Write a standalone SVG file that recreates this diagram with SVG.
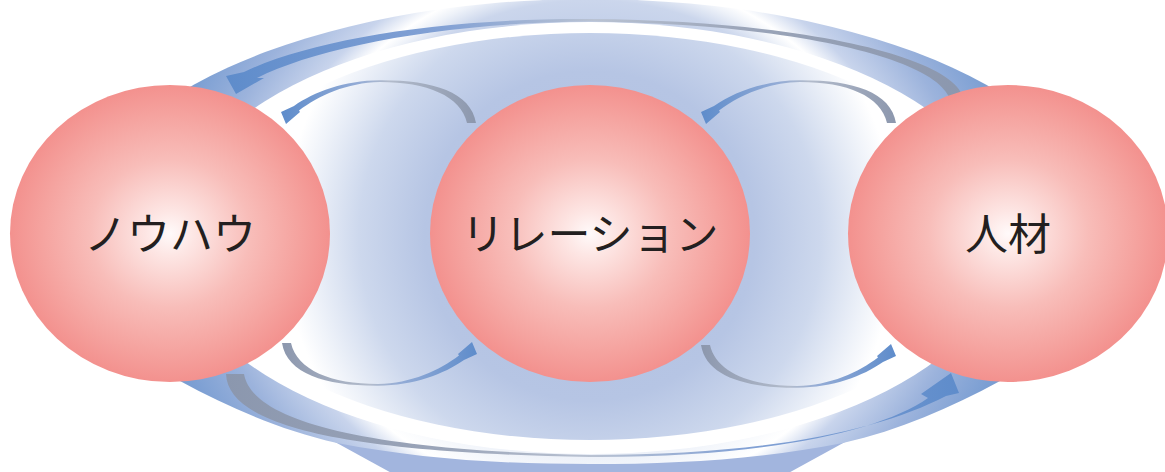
<svg xmlns="http://www.w3.org/2000/svg" xmlns:xlink="http://www.w3.org/1999/xlink" width="1165" height="472" viewBox="0 0 1165 472">
<style>
.lbl{font-family:"Noto Sans CJK JP","Noto Sans",sans-serif;font-size:43px;fill:#231f20;text-anchor:middle}
.node{fill:url(#pink)}
</style>
<defs>
<radialGradient id="pink" cx="0.5" cy="0.5" r="0.5">
<stop offset="0" stop-color="#fffafa"/>
<stop offset="0.15" stop-color="#fde6e4"/>
<stop offset="0.5" stop-color="#f8bdb9"/>
<stop offset="0.8" stop-color="#f5a39f"/>
<stop offset="1" stop-color="#f3918e"/>
</radialGradient>
<radialGradient id="bandTop" gradientUnits="userSpaceOnUse" cx="590" cy="300" r="500">
<stop offset="0.5" stop-color="#bccae7"/>
<stop offset="0.6" stop-color="#cbd6ec"/>
<stop offset="0.635" stop-color="#eef2f9"/>
<stop offset="0.655" stop-color="#ffffff"/>
<stop offset="0.7" stop-color="#c8d4ec"/>
<stop offset="0.8" stop-color="#9cb3dc"/>
<stop offset="0.9" stop-color="#7c9fd3"/>
<stop offset="1" stop-color="#6e95d0"/>
</radialGradient>
<radialGradient id="bandBot" gradientUnits="userSpaceOnUse" cx="590" cy="170" r="500">
<stop offset="0.5" stop-color="#dce3f2"/>
<stop offset="0.6" stop-color="#f3f6fb"/>
<stop offset="0.655" stop-color="#ffffff"/>
<stop offset="0.7" stop-color="#c8d4ec"/>
<stop offset="0.8" stop-color="#9cb3dc"/>
<stop offset="0.9" stop-color="#7c9fd3"/>
<stop offset="1" stop-color="#6e95d0"/>
</radialGradient>
<radialGradient id="inner" gradientUnits="userSpaceOnUse" cx="590" cy="236" r="330">
<stop offset="0" stop-color="#aebfe0"/>
<stop offset="0.5" stop-color="#b6c5e4"/>
<stop offset="0.7" stop-color="#cdd8ed"/>
<stop offset="0.85" stop-color="#eef2f9"/>
<stop offset="0.93" stop-color="#ffffff"/>
</radialGradient>
<linearGradient id="bigTop" gradientUnits="userSpaceOnUse" x1="226" y1="0" x2="963" y2="0">
<stop offset="0" stop-color="#5e8ccb"/>
<stop offset="0.3" stop-color="#84a2d5"/>
<stop offset="0.5" stop-color="#b9c2d2"/>
<stop offset="0.7" stop-color="#9ba5b9"/>
<stop offset="1" stop-color="#8b97ae"/>
</linearGradient>
<linearGradient id="bigBot" gradientUnits="userSpaceOnUse" x1="226" y1="0" x2="960" y2="0">
<stop offset="0" stop-color="#8b97ae"/>
<stop offset="0.3" stop-color="#9ba5b9"/>
<stop offset="0.5" stop-color="#b9c2d2"/>
<stop offset="0.7" stop-color="#84a2d5"/>
<stop offset="1" stop-color="#5e8ccb"/>
</linearGradient>
<linearGradient id="small" x1="0" y1="0" x2="1" y2="0">
<stop offset="0" stop-color="#5e8ccb"/>
<stop offset="0.4" stop-color="#94acd6"/>
<stop offset="0.55" stop-color="#b3bccc"/>
<stop offset="1" stop-color="#8c97ad"/>
</linearGradient>
<path id="smallArrow" fill="url(#small)" d="M 476,123 C 471,92 432,80 380,80.3 C 344,80.6 314,92 294,106 L 281,112 L 286,124 L 300,112 L 299,110.5 C 318,96 347,82.5 380,82 C 427,82 461,96 467,123 Z"/>
</defs>

<g id="background">
<polygon points="304,425 397,476 783,476 876,425" fill="#a2b5de"/>
<path d="M 78,233 A 512 234 0 0 1 1102,233 Z" fill="url(#bandTop)"/>
<path d="M 1102,233 C 1098,300 1060,350 1000,381 C 950,408 900,430 843,443 C 760,459 680,464 590,464 C 500,464 420,459 337,443 C 280,430 230,408 180,381 C 120,350 82,300 78,233 Z" fill="url(#bandBot)"/>
<ellipse cx="590" cy="238" rx="420" ry="216" fill="#ffffff"/>
<ellipse cx="590" cy="236.5" rx="400" ry="203.5" fill="url(#inner)"/>
</g>

<g id="connectors">
<path id="arrow-top" fill="url(#bigTop)" d="M 963,97 C 952,58 810,21 590,19 C 440,18 310,40 244,72 L 226,76 L 236,94 L 264,78 L 257,78 C 318,47 445,22.5 590,21.5 C 795,24 932,58 949,97 Z"/>
<path id="arrow-bottom" fill="url(#bigBot)" d="M 226,374 C 228,425 340,453 590,457 C 760,458 880,432 928,398 L 921,394 L 951,373 L 959,393 L 946,396 C 880,430 770,455 590,455 C 360,450 252,420 244,374 Z"/>
<use id="arrow-tl" xlink:href="#smallArrow"/>
<use id="arrow-tr" xlink:href="#smallArrow" transform="translate(420,0)"/>
<use id="arrow-bl" xlink:href="#smallArrow" transform="rotate(180 379 233)"/>
<use id="arrow-br" xlink:href="#smallArrow" transform="translate(419,2) rotate(180 379 233)"/>
</g>

<g id="node-knowhow">
<ellipse class="node" cx="170" cy="233.5" rx="160" ry="148.5"/>
<text class="lbl" x="170" y="250">ノウハウ</text>
</g>
<g id="node-relation">
<ellipse class="node" cx="590" cy="233.5" rx="160" ry="148.5"/>
<text class="lbl" x="590" y="250">リレーション</text>
</g>
<g id="node-jinzai">
<ellipse class="node" cx="1008" cy="233.5" rx="160" ry="148.5"/>
<text class="lbl" x="1008" y="250">人材</text>
</g>
</svg>
